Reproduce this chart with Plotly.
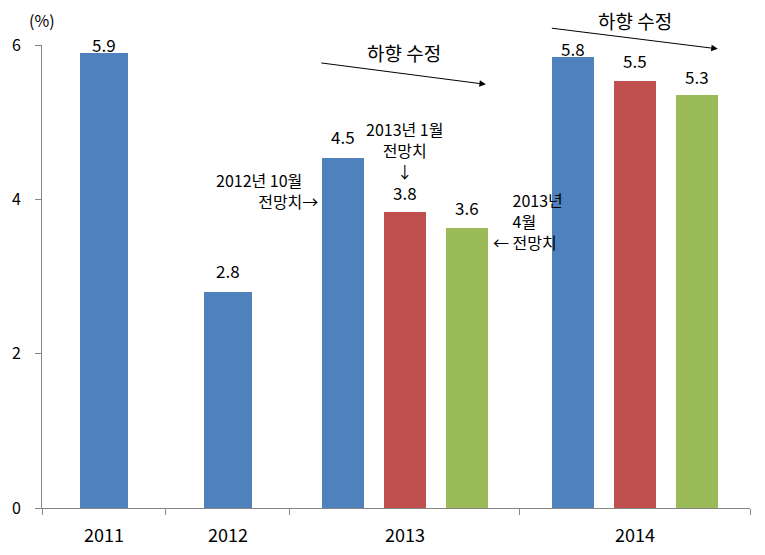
import plotly.graph_objects as go

# data (%)
years = ["2011", "2012", "2013", "2014"]
oct2012 = [5.9, 2.8, 4.53, 5.84]       # blue: actual / Oct 2012 forecast
jan2013 = [None, None, 3.83, 5.54]     # red: Jan 2013 forecast
apr2013 = [None, None, 3.63, 5.35]     # green: Apr 2013 forecast
oct2012_text = ["5.9", "2.8", "4.5", "5.8"]
jan2013_text = ["", "", "3.8", "5.5"]
apr2013_text = ["", "", "3.6", "5.3"]
y_ticks = [0, 2, 4, 6]

# layout of the category axis (2013 and 2014 are wider slots)
cat_edges = [0, 1, 2, 3.855, 5.71]
centers = [(a + b) / 2 for a, b in zip(cat_edges[:-1], cat_edges[1:])]
grouped = [False, False, True, True]
step = 0.5
wide_bar, narrow_bar = 0.39, 0.345

FONT = "Noto Sans CJK KR, Noto Sans, sans-serif"
colors = ["#4F81BD", "#C0504D", "#9BBB59"]
series = [oct2012, jan2013, apr2013]
texts = [oct2012_text, jan2013_text, apr2013_text]
label_lift = [[8, 21, 22, 9], [0, 0, 20, 20], [0, 0, 20, 19]]

fig = go.Figure()
annotations = []
for k, (vals, txt, col) in enumerate(zip(series, texts, colors)):
    xs, ys, ws = [], [], []
    for i, v in enumerate(vals):
        if v is None:
            continue
        if grouped[i]:
            x = centers[i] + (k - 1) * step
            w = narrow_bar
        else:
            x = centers[i]
            w = wide_bar
        xs.append(x)
        ys.append(v)
        ws.append(w)
        annotations.append(dict(x=x, y=v, xref="x", yref="y", text=txt[i],
                                showarrow=False, yanchor="middle",
                                yshift=label_lift[k][i],
                                font=dict(size=17, color="black", family=FONT)))
    fig.add_trace(go.Bar(x=xs, y=ys, width=ws, marker_color=col,
                         marker_line_width=0, showlegend=False))

# category labels under the axis
for c, yr in zip(centers, years):
    annotations.append(dict(x=c, y=0, xref="x", yref="paper", text=yr,
                            showarrow=False, yanchor="middle", yshift=-26,
                            font=dict(size=18, color="black", family=FONT)))

note_font = dict(size=16, color="black", family=FONT)
head_font = dict(size=19, color="black", family=FONT)
ghost_l = "<span style='color:rgba(0,0,0,0)'>← </span>"
ghost_r = "<span style='color:rgba(0,0,0,0)'>→</span>"
annotations += [
    dict(x=0, y=1, xref="paper", yref="paper", text="(%)", showarrow=False,
         xanchor="center", yanchor="middle", yshift=25,
         font=dict(size=16, color="black", family=FONT)),
    # downward revision arrows
    dict(x=3.58, y=5.49, ax=2.24, ay=5.77, xref="x", yref="y", axref="x", ayref="y",
         showarrow=True, arrowhead=2, arrowsize=1.3, arrowwidth=1, arrowcolor="black", text=""),
    dict(x=2.92, y=5.90, xref="x", yref="y", text="하향 수정", showarrow=False,
         font=head_font),
    dict(x=5.45, y=5.95, ax=4.10, ay=6.22, xref="x", yref="y", axref="x", ayref="y",
         showarrow=True, arrowhead=2, arrowsize=1.3, arrowwidth=1, arrowcolor="black", text=""),
    dict(x=4.78, y=1, xref="x", yref="paper", text="하향 수정", showarrow=False,
         yanchor="middle", yshift=25, font=head_font),
    # forecast notes
    dict(x=2.24, y=4.12, xref="x", yref="y", text="2012년 10월" + ghost_r + "<br>전망치→",
         showarrow=False, xanchor="right", align="right", font=note_font),
    dict(x=2.92, y=4.64, xref="x", yref="y", text="2013년 1월<br>전망치<br>↓",
         showarrow=False, align="center", font=note_font),
    dict(x=3.62, y=3.72, xref="x", yref="y",
         text=ghost_l + "2013년<br>" + ghost_l + "4월<br>← 전망치",
         showarrow=False, xanchor="left", align="left", font=note_font),
]

fig.update_layout(
    width=765, height=555,
    margin=dict(l=39, r=15, t=45, b=47),
    plot_bgcolor="white", paper_bgcolor="white",
    bargap=0, annotations=annotations,
    font=dict(family=FONT, color="black"),
    xaxis=dict(range=[cat_edges[0], cat_edges[-1]], tickvals=cat_edges,
               ticktext=[""] * len(cat_edges), ticks="outside", ticklen=6,
               tickcolor="#868686", showline=True, linecolor="#868686",
               showgrid=False, zeroline=False, fixedrange=True),
    yaxis=dict(range=[0, 6], tickvals=y_ticks, ticks="outside", ticklen=6,
               tickcolor="#868686", showline=True, linecolor="#868686",
               showgrid=False, zeroline=False, ticklabelstandoff=11,
               tickfont=dict(size=16, color="black", family=FONT)),
)

fig.write_html("out.html", config={"displayModeBar": False},
               post_script="document.body.style.margin='0';")
